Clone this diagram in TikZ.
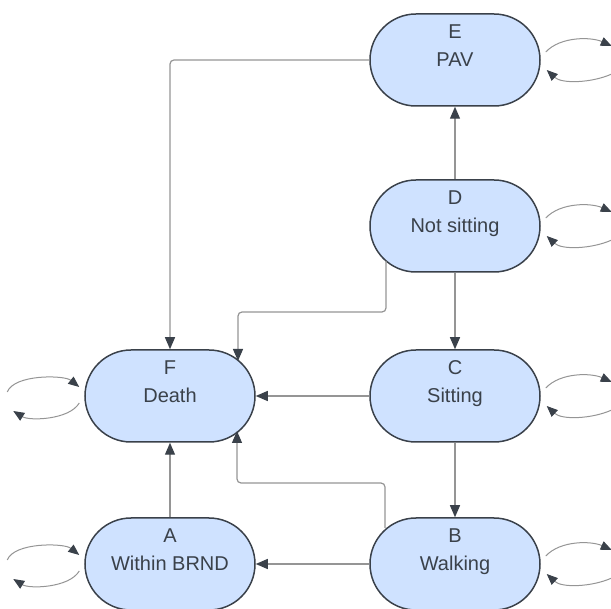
\documentclass[tikz,border=0pt]{standalone}
\usepackage{fontspec}
\setmainfont{Liberation Sans}
\usetikzlibrary{arrows.meta,calc}
\definecolor{statefill}{HTML}{CFE2FF}
\definecolor{stateline}{HTML}{3A414A}
\definecolor{wire}{HTML}{959595}
\tikzset{
	state/.style={rectangle, rounded corners=46pt, draw=stateline, line width=1.5pt, fill=statefill, text=stateline,
		minimum width=170pt, minimum height=92pt, align=center, font=\fontsize{20}{28}\selectfont, text depth=28pt},
	conn/.style={draw=wire, line width=1.2pt, rounded corners=4pt, -{Triangle[length=12pt,width=10pt,color=stateline]}},
	selfloop/.style={draw=wire, line width=1pt, -{Triangle[length=11pt,width=9pt,color=stateline]}}
}
\def\rightloop#1{
	\draw[selfloop] ($(#1.east)+(5,-8)$) .. controls +(15,-16) and +(-20,-9) .. ($(#1.east)+(71,-14)$);
	\draw[selfloop] ($(#1.east)+(71,14)$) .. controls +(-20,9) and +(15,14) .. ($(#1.east)+(6,10)$);
}
\def\leftloop#1{
	\draw[selfloop] ($(#1.west)+(-77,-4)$) .. controls +(7,-18) and +(-15,-12) .. ($(#1.west)+(-5,-9)$);
	\draw[selfloop] ($(#1.west)+(-5,7)$) .. controls +(-10,17) and +(16,10) .. ($(#1.west)+(-71,15)$);
}

\begin{document}
\begin{tikzpicture}[x=1pt, y=-1pt]
			%%%%% START %%%%%
			\useasboundingbox (0,0) rectangle (611,609);
			
			\node[state] (E) at (455, 60) {E\\PAV};
			\node[state] (D) at (455, 226) {D\\Not sitting};
			\node[state] (C) at (455, 396) {C\\Sitting};
			\node[state] (B) at (455, 564) {B\\Walking};
			\node[state] (F) at (170, 396) {F\\Death};
			\node[state] (A) at (170, 564) {A\\Within BRND};
			
			% points on the round ends
			\coordinate (Dout) at ($(D.center)+(-69,35)$);
			\coordinate (Bout) at ($(B.center)+(-70,-36)$);
			\coordinate (Ftop) at ($(F.center)+(68,-35)$);
			\coordinate (Fbot) at ($(F.center)+(67,35)$);
			\coordinate (dfbend) at (300, 312);
			\coordinate (bfbend) at (300, 483);
			
			\draw[conn] (E.west) -| (F.north);
			\draw[conn] (D.north) -- (E.south);
			\draw[conn] (D.south) -- (C.north);
			\draw[conn] (Dout) |- (dfbend) -| (Ftop);
			\draw[conn] (C.west) -- (F.east);
			\draw[conn] (C.south) -- (B.north);
			\draw[conn] (Bout) |- (bfbend) -| (Fbot);
			\draw[conn] (B.west) -- (A.east);
			\draw[conn] (A.north) -- (F.south);
			
			\rightloop{E}
			\rightloop{D}
			\rightloop{C}
			\rightloop{B}
			\leftloop{F}
			\leftloop{A}
			
			%%%%% END %%%%%
\end{tikzpicture}
\end{document}
